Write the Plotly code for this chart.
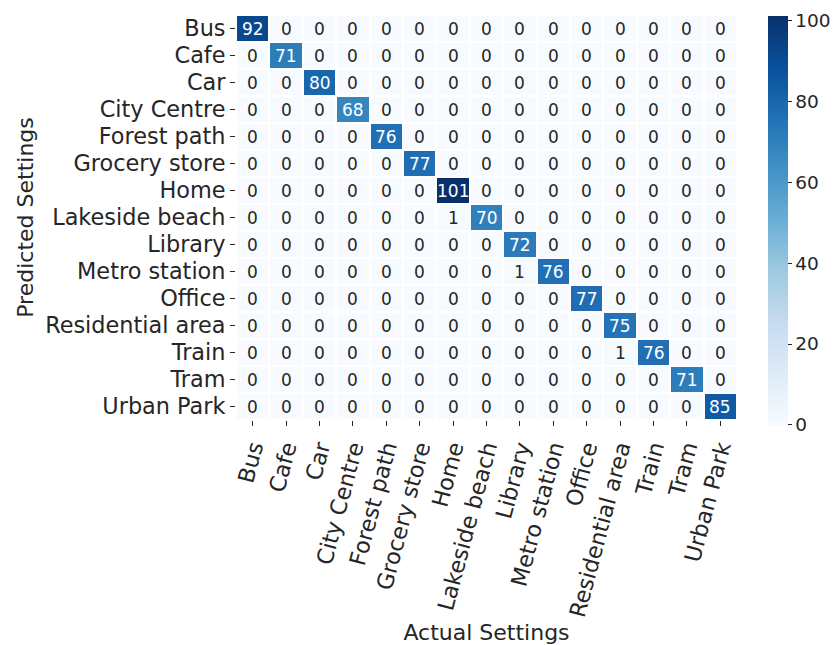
import numpy as np
import plotly.graph_objects as go

# Scene classes (same order on both axes)
settings = ["Bus", "Cafe", "Car", "City Centre", "Forest path", "Grocery store",
            "Home", "Lakeside beach", "Library", "Metro station", "Office",
            "Residential area", "Train", "Tram", "Urban Park"]

# Correct predictions (diagonal of the confusion matrix)
diagonal_counts = [92, 71, 80, 68, 76, 77, 101, 70, 72, 76, 77, 75, 76, 71, 85]

# Misclassifications: (predicted, actual, count)
confusions = [
    ("Lakeside beach", "Home", 1),
    ("Metro station", "Library", 1),
    ("Train", "Residential area", 1),
]

n = len(settings)
cm = np.zeros((n, n), dtype=int)
for i, v in enumerate(diagonal_counts):
    cm[i, i] = v
for pred, act, c in confusions:
    cm[settings.index(pred), settings.index(act)] = c

# matplotlib "Blues" colormap
blues = ["#f7fbff", "#deebf7", "#c6dbef", "#9ecae1", "#6baed6",
         "#4292c6", "#2171b5", "#08519c", "#08306b"]
colorscale = [[k / (len(blues) - 1), c] for k, c in enumerate(blues)]

font_family = "DejaVu Sans"
text_color = "#262626"
zmax = 101

fig = go.Figure(go.Heatmap(
    z=cm,
    x=settings,
    y=settings,
    zmin=0,
    zmax=zmax,
    colorscale=colorscale,
    xgap=2,
    ygap=2,
    hoverinfo="skip",
    colorbar=dict(
        thickness=20,
        lenmode="pixels",
        len=409,
        xpad=0,
        ypad=0,
        x=1.062,
        xanchor="left",
        y=0.4926,
        yanchor="middle",
        outlinewidth=0,
        ticks="outside",
        ticklen=4,
        tickcolor=text_color,
        tickvals=[0, 20, 40, 60, 80, 100],
        tickfont=dict(family=font_family, size=18.5, color=text_color),
    ),
))

# Cell value labels: white text on dark cells, dark text on light cells
annotations = []
for i, pred in enumerate(settings):
    for j, act in enumerate(settings):
        v = int(cm[i, j])
        annotations.append(dict(
            x=act, y=pred, xref="x", yref="y",
            text=str(v), showarrow=False,
            font=dict(family=font_family, size=17,
                      color="white" if v > 40 else text_color),
        ))

fig.update_layout(
    width=837,
    height=645,
    margin=dict(l=236, r=100, t=14.5, b=224.5, autoexpand=False),
    paper_bgcolor="white",
    plot_bgcolor="white",
    font=dict(family=font_family, color=text_color),
    annotations=annotations,
    xaxis=dict(
        title=dict(text="Actual Settings", font=dict(size=22, family=font_family, color=text_color),
                   standoff=6),
        tickangle=-75,
        tickfont=dict(size=22.4, family=font_family, color=text_color),
        ticks="outside",
        ticklen=5,
        tickcolor=text_color,
        showgrid=False,
        zeroline=False,
        automargin=False,
    ),
    yaxis=dict(
        title=dict(text="Predicted Settings", font=dict(size=22, family=font_family, color=text_color),
                   standoff=5),
        autorange="reversed",
        tickfont=dict(size=22.4, family=font_family, color=text_color),
        ticks="outside",
        ticklen=5,
        tickcolor=text_color,
        showgrid=False,
        zeroline=False,
        automargin=False,
    ),
)

fig.write_html("out.html")
